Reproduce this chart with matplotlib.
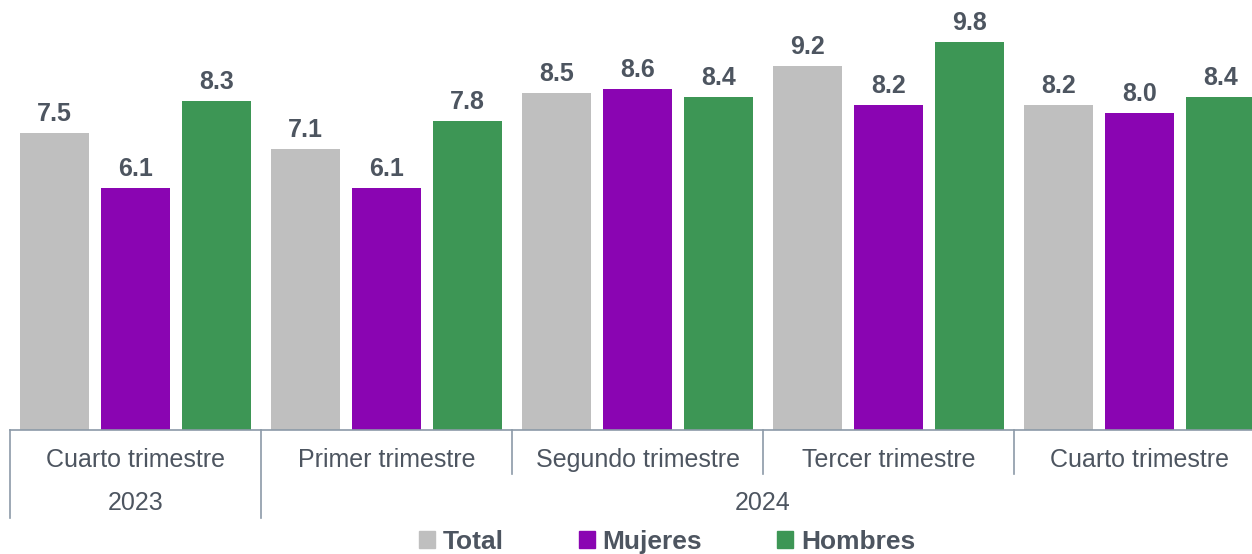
import numpy as np
import matplotlib
matplotlib.use("Agg")
import matplotlib.pyplot as plt
import matplotlib.transforms as mtransforms
from matplotlib.patches import Patch

plt.rcParams['font.family'] = ['Liberation Sans', 'DejaVu Sans']

# data
quarters = ["Cuarto trimestre", "Primer trimestre", "Segundo trimestre",
            "Tercer trimestre", "Cuarto trimestre"]
years = ["2023", "2024"]
year_span = [(0, 0), (1, 4)]
series = ["Total", "Mujeres", "Hombres"]
total = [7.5, 7.1, 8.5, 9.2, 8.2]
mujeres = [6.1, 6.1, 8.6, 8.2, 8.0]
hombres = [8.3, 7.8, 8.4, 9.8, 8.4]

colors = ["#BFBFBF", "#8A05B2", "#3D9655"]
text_col = "#4D5560"
line_col = "#8C9AA8"

W, H = 1252, 554
fig = plt.figure(figsize=(W / 100, H / 100), dpi=100)
# axes spans 5 groups of 251 px starting at x=10, baseline at y=430 px
ax = fig.add_axes([10 / W, (H - 430) / H, 1255 / W, 416 / H])
ax.set_xlim(-0.5, 4.5)
ax.set_ylim(0, 10.5)

x = np.arange(len(quarters))
step = 0.323
width = 0.275
for k, (vals, c) in enumerate(zip([total, mujeres, hombres], colors)):
    bars = ax.bar(x + (k - 1) * step, vals, width, color=c, label=series[k])
    for b, v in zip(bars, vals):
        ax.annotate(f"{v:.1f}", (b.get_x() + b.get_width() / 2, v),
                    xytext=(0, 5), textcoords="offset points",
                    ha="center", va="bottom", fontsize=18,
                    fontweight="bold", color=text_col)

for s in ["top", "right", "left"]:
    ax.spines[s].set_visible(False)
ax.spines["bottom"].set_color(line_col)
ax.spines["bottom"].set_linewidth(1.2)
ax.set_xticks([])
ax.set_yticks([])

# two-level category axis
trans = mtransforms.blended_transform_factory(ax.transData, ax.transAxes)
px = 1 / 416  # one pixel in axes units (vertical)
for i, q in enumerate(quarters):
    ax.text(i, -30 * px, q, transform=trans, ha="center", va="center",
            fontsize=18, color=text_col)
for i in range(len(quarters)):
    deep = any(i == a for a, b in year_span)
    bottom = -88 if deep else -44
    ax.plot([i - 0.5, i - 0.5], [0, bottom * px], transform=trans,
            color=line_col, lw=1.2, clip_on=False)
for yr, (a, b) in zip(years, year_span):
    ax.text((a + b) / 2, -73 * px, yr, transform=trans, ha="center",
            va="center", fontsize=18, color=text_col)

handles = [Patch(color=c) for c in colors]
leg = fig.legend(handles, series, loc="lower center", bbox_to_anchor=(667 / W, 0.0),
                 ncol=3, frameon=False, handlelength=0.6, handleheight=0.6,
                 handletextpad=0.3, columnspacing=2.85, borderpad=0.0,
                 borderaxespad=0.0, prop={"size": 19, "weight": "bold"})
for t in leg.get_texts():
    t.set_color(text_col)

fig.savefig("out.png", dpi=100)
